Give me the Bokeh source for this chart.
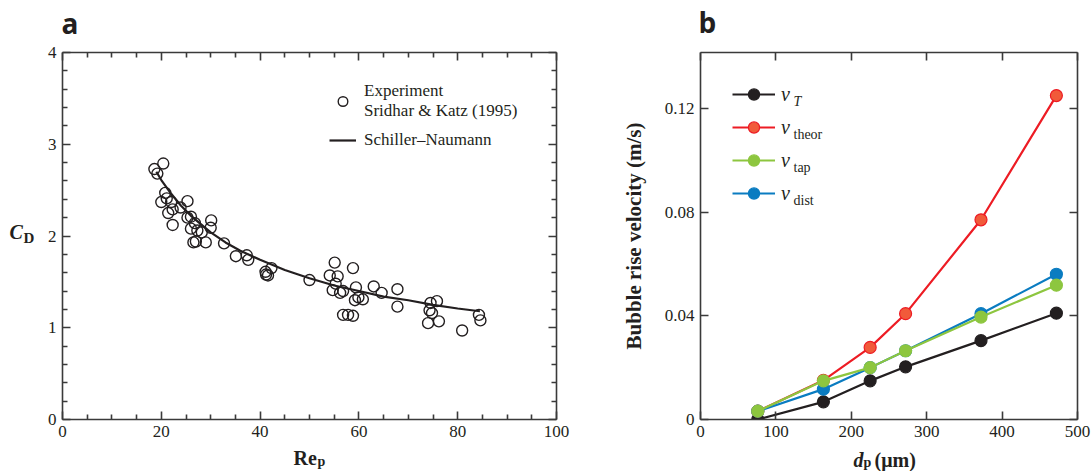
from bokeh.plotting import figure
from bokeh.layouts import row
from bokeh.models import (ColumnDataSource, FixedTicker, LinearAxis, Label, Legend,
                          LegendItem, Range1d, CustomJSTickFormatter)
from bokeh.embed import file_html
from bokeh.resources import INLINE

# ---------------- data: panel a ----------------
re_exp = [18.6, 20.4, 19.2, 20.0, 20.8, 21.1, 21.4, 22.0, 22.3, 22.3, 23.9, 25.3, 25.3,
          26.0, 26.0, 26.5, 27.0, 26.8, 27.3, 28.2, 29.0, 30.0, 30.1, 32.7, 35.1, 37.3,
          37.6, 41.1, 41.2, 41.6, 42.3, 50.0, 54.1, 55.1, 55.7, 54.7, 55.3, 56.2, 56.8,
          56.8, 57.8, 58.8, 58.8, 59.4, 59.2, 59.9, 60.8, 63.0, 64.6, 67.8, 67.8, 74.5,
          74.3, 74.8, 75.8, 74.0, 76.2, 80.9, 84.3, 84.6]
cd_exp = [2.73, 2.79, 2.68, 2.37, 2.47, 2.41, 2.25, 2.37, 2.29, 2.12, 2.31, 2.38, 2.20,
          2.21, 2.08, 1.93, 1.94, 2.14, 2.06, 2.04, 1.93, 2.09, 2.17, 1.92, 1.78, 1.79,
          1.74, 1.61, 1.58, 1.57, 1.65, 1.52, 1.57, 1.71, 1.56, 1.41, 1.48, 1.38, 1.40,
          1.14, 1.14, 1.13, 1.65, 1.44, 1.30, 1.33, 1.31, 1.45, 1.38, 1.42, 1.23, 1.27,
          1.19, 1.16, 1.29, 1.05, 1.07, 0.97, 1.14, 1.08]
re_fit = [19.0, 20.0, 22.0, 24.0, 26.0, 28.0, 30.0, 33.0, 36.0, 40.0, 45.0, 50.0, 55.0,
          60.0, 65.0, 70.0, 75.0, 80.0, 84.5]
cd_fit = [2.70, 2.61, 2.46, 2.33, 2.22, 2.13, 2.04, 1.93, 1.84, 1.74, 1.63, 1.54, 1.46,
          1.40, 1.34, 1.30, 1.25, 1.21, 1.18]

# ---------------- data: panel b ----------------
dp = [76, 163, 225, 272, 372, 472]
v_T = [0.0000, 0.0068, 0.0149, 0.0203, 0.0304, 0.0410]
v_theor = [0.0032, 0.0151, 0.0278, 0.0408, 0.0770, 0.1249]
v_tap = [0.0032, 0.0149, 0.0200, 0.0265, 0.0395, 0.0518]
v_dist = [0.0032, 0.0117, 0.0200, 0.0265, 0.0408, 0.0560]

xa_ticks = [0, 20, 40, 60, 80, 100]
xa_minor = [5, 10, 15, 25, 30, 35, 45, 50, 55, 65, 70, 75, 85, 90, 95]
ya_ticks = [0, 1, 2, 3, 4]
ya_minor = [0.2, 0.4, 0.6, 0.8, 1.2, 1.4, 1.6, 1.8, 2.2, 2.4, 2.6, 2.8, 3.2, 3.4, 3.6, 3.8]
xb_ticks = [0, 100, 200, 300, 400, 500]
yb_ticks = [0, 0.04, 0.08, 0.12]

SERIF = "Liberation Serif"
INK = "#231f20"
AXC = "#3a3a3a"
RED, RED_FILL, GREEN, BLUE = "#ed1c24", "#f15a3a", "#8dc63f", "#0a7cc1"

# frame geometry (page pixels)
A_L, A_R, A_T, A_B = 62, 556, 52, 420
B_L, B_R, B_T, B_B = 700, 1077, 52, 419
XA, YA = (0, 100), (0, 4)
XB, YB = (0, 500), (0, 0.1415)
W_A = 600
W_B = 1091 - W_A
H = 471


def add_axis(p, side, ticks, minor, show, fmt=None):
    ax = LinearAxis(ticker=FixedTicker(ticks=ticks, minor_ticks=minor))
    ax.axis_line_color = AXC
    ax.axis_line_width = 1.6
    ax.major_tick_in = 8
    ax.major_tick_out = 0
    ax.minor_tick_in = 5
    ax.minor_tick_out = 0
    ax.major_tick_line_color = AXC
    ax.major_tick_line_width = 1.6
    ax.minor_tick_line_color = AXC
    ax.minor_tick_line_width = 1.6
    if show:
        ax.major_label_text_font = SERIF
        ax.major_label_text_font_size = "17px"
        ax.major_label_text_color = INK
        ax.major_label_standoff = 6
        if fmt is not None:
            ax.formatter = fmt
    else:
        ax.major_label_text_font_size = "0px"
        ax.major_label_text_color = None
        ax.major_label_standoff = 0
    p.add_layout(ax, side)
    return ax


def place(p, side, geom, px, py, s, size, style="normal", font=SERIF, align="left",
          baseline="alphabetic"):
    """Text label placed at page pixel (px, py) via the plot's data scales."""
    (l, r, t, b), (x0, x1), (y0, y1) = geom
    x = x0 + (px - l) * (x1 - x0) / (r - l)
    y = y0 + (b - py) * (y1 - y0) / (b - t)
    p.add_layout(Label(x=x, y=y, text=s, text_font=font, text_font_size=size,
                       text_font_style=style, text_color=INK, text_align=align,
                       text_baseline=baseline), side)


# ================= panel a =================
pa = figure(width=W_A, height=H, x_range=Range1d(*XA), y_range=Range1d(*YA),
            output_backend="svg", toolbar_location=None,
            x_axis_location=None, y_axis_location=None,
            min_border_left=A_L, min_border_right=W_A - A_R, min_border_top=A_T,
            min_border_bottom=H - A_B)
pa.outline_line_color = None
pa.grid.visible = False
add_axis(pa, "below", xa_ticks, xa_minor, True)
add_axis(pa, "left", ya_ticks, ya_minor, True)
add_axis(pa, "above", xa_ticks, xa_minor, False)
add_axis(pa, "right", ya_ticks, ya_minor, False)

src_exp = ColumnDataSource(dict(x=re_exp, y=cd_exp))
src_fit = ColumnDataSource(dict(x=re_fit, y=cd_fit))
r_fit = pa.line("x", "y", source=src_fit, line_color=INK, line_width=2.2)
r_exp = pa.scatter("x", "y", source=src_exp, size=11, marker="circle", fill_color=None,
                   line_color=INK, line_width=1.4)

leg_a = Legend(items=[LegendItem(label="Experiment\nSridhar & Katz (1995)", renderers=[r_exp]),
                      LegendItem(label="Schiller–Naumann", renderers=[r_fit])],
               location=(267, 267), glyph_width=27, glyph_height=24, label_height=24,
               label_standoff=8, spacing=7, padding=4, border_line_color=None,
               background_fill_alpha=0, label_text_font=SERIF, label_text_font_size="17px",
               label_text_color=INK)
pa.add_layout(leg_a)

GA = ((A_L, A_R, A_T, A_B), XA, YA)
place(pa, "above", GA, 61, 22, "a", "28px", "bold", font="Open Sans")
place(pa, "left", GA, 9, 232, "C", "20px", "bold italic")
place(pa, "left", GA, 23, 238, "D", "15px", "bold")
place(pa, "below", GA, 293, 459, "Re", "20px", "bold")
place(pa, "right", GA, 317, 462, "p", "14px", "bold")

# ================= panel b =================
pb = figure(width=W_B, height=H, x_range=Range1d(*XB), y_range=Range1d(*YB),
            output_backend="svg", toolbar_location=None,
            x_axis_location=None, y_axis_location=None,
            min_border_left=B_L - W_A, min_border_right=1091 - B_R, min_border_top=B_T,
            min_border_bottom=H - B_B)
pb.outline_line_color = None
pb.grid.visible = False
yfmt = CustomJSTickFormatter(code="return tick == 0 ? '0' : tick.toFixed(2);")
add_axis(pb, "below", xb_ticks, [], True)
yax = add_axis(pb, "left", yb_ticks, [], True, fmt=yfmt)
yax.axis_label = "Bubble rise velocity (m/s)"
yax.axis_label_text_font = SERIF
yax.axis_label_text_font_size = "21px"
yax.axis_label_text_font_style = "bold"
yax.axis_label_text_color = INK
yax.axis_label_standoff = 16
add_axis(pb, "above", xb_ticks, [], False)
add_axis(pb, "right", yb_ticks, [], False)

series = [("T", v_T, INK, INK), ("theor", v_theor, RED, RED_FILL),
          ("tap", v_tap, GREEN, GREEN), ("dist", v_dist, BLUE, BLUE)]
rend = {}
for key, vals, lc, fc in [series[0], series[1], series[3], series[2]]:
    src = ColumnDataSource(dict(x=dp, y=vals))
    rl = pb.line("x", "y", source=src, line_color=lc, line_width=2.2)
    rs = pb.scatter("x", "y", source=src, size=12, marker="circle", fill_color=fc,
                    line_color=lc, line_width=1.2)
    rend[key] = [rl, rs]

leg_b = Legend(items=[LegendItem(label="v", renderers=rend[k]) for k, *_ in series],
               location=(32, 212), glyph_width=43, glyph_height=28, label_height=28,
               label_standoff=6, spacing=5, padding=6, border_line_color=None,
               background_fill_alpha=0, label_text_font=SERIF, label_text_font_size="20px",
               label_text_font_style="italic", label_text_color=INK)
pb.add_layout(leg_b)

rows_top = [94, 127, 160, 193]
for (key, *_), rc in zip(series, rows_top):
    pb.add_layout(Label(x=93, y=B_B - (rc + 7), x_units="screen", y_units="screen",
                        text=key, text_font=SERIF, text_font_size="14px",
                        text_font_style="italic" if key == "T" else "normal",
                        text_color=INK, text_baseline="alphabetic"))

GB = ((B_L, B_R, B_T, B_B), XB, YB)
place(pb, "above", GB, 698, 21, "b", "28px", "bold", font="Open Sans")
place(pb, "left", GB, 853, 459, "d", "20px", "bold italic")
place(pb, "left", GB, 863, 462, "p", "14px", "bold")
place(pb, "below", GB, 874, 459, "(μm)", "20px", "bold")

layout = row(pa, pb)
open("out.html", "w").write(file_html(layout, INLINE))
